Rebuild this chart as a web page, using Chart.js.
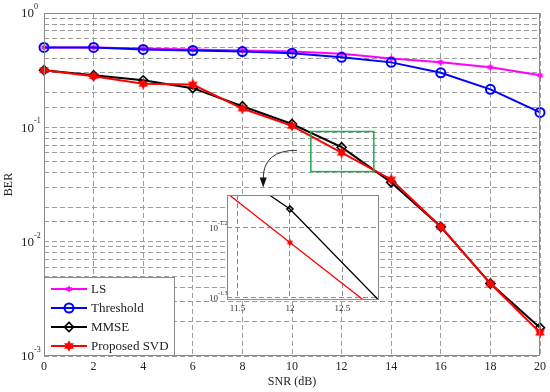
<!DOCTYPE html>
<html>
<head>
<meta charset="utf-8">
<script src="https://cdn.jsdelivr.net/npm/chart.js@4.4.1/dist/chart.umd.min.js"></script>
<style>
  body { margin: 0; background: #fff; }
  #wrap { position: relative; width: 550px; height: 392px; }
  #main { position: absolute; left: 0; top: 0; }
  #inset { position: absolute; left: 195px; top: 188px; }
</style>
</head>
<body>
<div id="wrap">
  <canvas id="main" width="550" height="392"></canvas>
  <canvas id="inset" width="195" height="132"></canvas>
</div>
<script>
// data
const snr = [0, 2, 4, 6, 8, 10, 12, 14, 16, 18, 20];
const berLS        = [0.50, 0.50, 0.49, 0.48, 0.47, 0.46, 0.44, 0.40, 0.37, 0.335, 0.285];
const berThreshold = [0.50, 0.50, 0.48, 0.47, 0.46, 0.445, 0.41, 0.37, 0.30, 0.215, 0.135];
const berMMSE      = [0.316, 0.285, 0.258, 0.22, 0.153, 0.107, 0.067, 0.033, 0.0135, 0.0043, 0.00177];
const berSVD       = [0.316, 0.28, 0.24, 0.237, 0.146, 0.103, 0.060, 0.035, 0.0135, 0.0043, 0.0016];
const yExponents   = [0, -1, -2, -3];
const insetXTicks  = [11.5, 12, 12.5];
const insetYExp    = [-1.2, -1.3];

// zoomed region and arrow (data coordinates)
const zoomBox   = { x0: 10.76, x1: 13.3, y0: 0.041, y1: 0.092 };
const arrowFrom = { x: 10.2, y: 0.063 };
const arrowTo   = { x: 8.84, y: 0.0298 };

const FONT = "'Liberation Serif', 'DejaVu Serif', serif";
const GRID = "#9c9c9c";

// filled six-pointed star marker
function hexagram(size, color) {
  const c = document.createElement("canvas");
  c.width = size; c.height = size;
  const g = c.getContext("2d");
  const r = size / 2 - 0.3, ri = r * 0.55, m = size / 2;
  g.beginPath();
  for (let i = 0; i < 12; i++) {
    const a = -Math.PI / 2 + i * Math.PI / 6;
    const rr = i % 2 ? ri : r;
    g.lineTo(m + rr * Math.cos(a), m + rr * Math.sin(a));
  }
  g.closePath();
  g.fillStyle = color;
  g.fill();
  return c;
}

const starRed    = hexagram(12, "#ff0000");
const starRedSm  = hexagram(8, "#ff0000");
const starPink   = hexagram(8, "#ff00ff");

function seriesLS() {
  return { label: "LS", data: berLS, borderColor: "#ff00ff", backgroundColor: "#ff00ff",
    borderWidth: 2, pointStyle: starPink, pointRadius: 4, pointBorderWidth: 1,
    pointBackgroundColor: "#ff00ff", order: 4 };
}
function seriesThr() {
  return { label: "Threshold", data: berThreshold, borderColor: "#0000ff", backgroundColor: "#0000ff",
    borderWidth: 2, pointStyle: "circle", pointRadius: 4.5, pointBorderWidth: 2,
    pointBackgroundColor: "rgba(0,0,0,0)", order: 3 };
}
function seriesMMSE(r, w) {
  return { label: "MMSE", data: berMMSE, borderColor: "#000000", backgroundColor: "#000000",
    borderWidth: w, pointStyle: "rectRot", pointRadius: r, pointBorderWidth: 1.6,
    pointBackgroundColor: "rgba(0,0,0,0)", order: 2 };
}
function seriesSVD(img, w) {
  return { label: "Proposed SVD", data: berSVD, borderColor: "#ff0000", backgroundColor: "#ff0000",
    borderWidth: w, pointStyle: img, pointRadius: 5, pointBorderWidth: 1,
    pointBackgroundColor: "#ff0000", order: 1 };
}

// box, zoom rectangle, arrow, legend and 10^n labels
const mainDecor = {
  id: "mainDecor",
  afterDraw(chart) {
    const ctx = chart.ctx, a = chart.chartArea;
    const xs = chart.scales.x, ys = chart.scales.y;
    ctx.save();
    ctx.strokeStyle = "#8a8a8a";
    ctx.lineWidth = 1;
    ctx.strokeRect(a.left + 0.5, a.top + 0.5, a.right - a.left - 1, a.bottom - a.top - 1);

    // green zoom box
    ctx.strokeStyle = "#1fae4a";
    ctx.lineWidth = 1.5;
    const gx0 = xs.getPixelForValue(zoomBox.x0), gx1 = xs.getPixelForValue(zoomBox.x1);
    const gy0 = ys.getPixelForValue(zoomBox.y1), gy1 = ys.getPixelForValue(zoomBox.y0);
    ctx.strokeRect(gx0, gy0, gx1 - gx0, gy1 - gy0);

    // curved arrow
    const sx = xs.getPixelForValue(arrowFrom.x), sy = ys.getPixelForValue(arrowFrom.y);
    const tx = xs.getPixelForValue(arrowTo.x), ty = ys.getPixelForValue(arrowTo.y);
    ctx.strokeStyle = "#333";
    ctx.fillStyle = "#111";
    ctx.lineWidth = 1;
    ctx.beginPath();
    ctx.moveTo(sx, sy);
    ctx.quadraticCurveTo(tx, sy, tx, ty - 9);
    ctx.stroke();
    ctx.beginPath();
    ctx.moveTo(tx - 3.5, ty - 10);
    ctx.lineTo(tx + 3.5, ty - 10);
    ctx.lineTo(tx, ty);
    ctx.closePath();
    ctx.fill();

    // y labels 10^n
    ctx.fillStyle = "#222";
    ctx.textAlign = "right";
    ctx.textBaseline = "middle";
    yExponents.forEach(p => {
      const y = ys.getPixelForValue(Math.pow(10, p));
      ctx.font = "13px " + FONT;
      ctx.fillText("10", a.left - 10, y + 1);
      ctx.textAlign = "left";
      ctx.font = "8px " + FONT;
      ctx.fillText(p === 0 ? "0" : "-" + (-p), a.left - 10, y - 6);
      ctx.textAlign = "right";
    });

    // legend (lower left)
    const lx0 = a.left, ly1 = a.bottom, lx1 = a.left + 131, ly0 = a.bottom - 79;
    ctx.fillStyle = "#fff";
    ctx.fillRect(lx0, ly0, lx1 - lx0, ly1 - ly0);
    ctx.strokeStyle = "#8a8a8a";
    ctx.lineWidth = 1;
    ctx.strokeRect(lx0 + 0.5, ly0 + 0.5, lx1 - lx0 - 1, ly1 - ly0 - 1);
    chart.data.datasets.forEach((ds, i) => {
      const y = ly0 + 12 + i * 19;
      ctx.strokeStyle = ds.borderColor;
      ctx.lineWidth = 2;
      ctx.beginPath();
      ctx.moveTo(lx0 + 7, y);
      ctx.lineTo(lx0 + 43, y);
      ctx.stroke();
      ctx.fillStyle = ds.pointBackgroundColor;
      ctx.lineWidth = ds.pointBorderWidth;
      Chart.helpers.drawPoint(ctx, { pointStyle: ds.pointStyle, radius: ds.pointRadius,
        borderWidth: ds.pointBorderWidth, rotation: 0 }, lx0 + 25, y);
      ctx.fillStyle = "#222";
      ctx.font = "13px " + FONT;
      ctx.textAlign = "left";
      ctx.fillText(ds.label, lx0 + 47, y + 1);
    });
    ctx.restore();
  }
};

new Chart(document.getElementById("main"), {
  type: "line",
  data: {
    labels: snr,
    datasets: [seriesLS(), seriesThr(), seriesMMSE(4.5, 2), seriesSVD(starRed, 2)]
      .map(d => Object.assign(d, { clip: 8, data: d.data.map((v, i) => ({ x: snr[i], y: v })) }))
  },
  options: {
    responsive: false,
    animation: false,
    layout: { padding: { top: 13, right: 6, left: 0, bottom: 0 } },
    plugins: { legend: { display: false }, tooltip: { enabled: false } },
    scales: {
      x: {
        type: "linear", min: 0, max: 20,
        ticks: { stepSize: 2, color: "#222", font: { family: FONT, size: 12 }, padding: 4 },
        grid: { color: GRID, drawTicks: false },
        border: { display: false, dash: [5, 3] },
        title: { display: true, text: "SNR (dB)", color: "#222", font: { family: FONT, size: 12 },
          padding: { top: 0, bottom: 3 } },
        afterFit(s) { s.height = 36; }
      },
      y: {
        type: "logarithmic", min: 0.001, max: 1,
        ticks: { display: false, autoSkip: false },
        grid: { color: GRID, drawTicks: false },
        border: { display: false, dash: [5, 3] },
        title: { display: true, text: "BER", color: "#222", font: { family: FONT, size: 12 },
          padding: { top: 2, bottom: 0 } },
        afterFit(s) { s.width = 44; }
      }
    }
  },
  plugins: [mainDecor]
});

// inset: zoom around SNR = 12 dB
const insetDecor = {
  id: "insetDecor",
  beforeDraw(chart) {
    const ctx = chart.ctx, a = chart.chartArea;
    ctx.save();
    ctx.fillStyle = "#fff";
    ctx.fillRect(a.left, a.top, a.right - a.left, a.bottom - a.top);
    ctx.restore();
  },
  afterDraw(chart) {
    const ctx = chart.ctx, a = chart.chartArea, ys = chart.scales.y;
    ctx.save();
    ctx.strokeStyle = "#8a8a8a";
    ctx.lineWidth = 1;
    ctx.strokeRect(a.left + 0.5, a.top + 0.5, a.right - a.left - 1, a.bottom - a.top - 1);
    ctx.fillStyle = "#333";
    ctx.textBaseline = "middle";
    insetYExp.forEach(p => {
      const y = ys.getPixelForValue(Math.pow(10, p));
      ctx.textAlign = "right";
      ctx.font = "9px " + FONT;
      ctx.fillText("10", a.left - 9, y + 1);
      ctx.textAlign = "left";
      ctx.font = "6px " + FONT;
      ctx.fillText(String(p), a.left - 9, y - 4);
    });
    ctx.restore();
  }
};

new Chart(document.getElementById("inset"), {
  type: "line",
  data: {
    datasets: [seriesMMSE(3, 1.3), seriesSVD(starRedSm, 1.3)]
      .map(d => Object.assign(d, { data: d.data.map((v, i) => ({ x: snr[i], y: v })) }))
  },
  options: {
    responsive: false,
    animation: false,
    layout: { padding: { top: 7, right: 11, left: 0, bottom: 0 } },
    plugins: { legend: { display: false }, tooltip: { enabled: false } },
    scales: {
      x: {
        type: "linear", min: 11.4, max: 12.85, bounds: "data",
        afterBuildTicks(s) { s.ticks = insetXTicks.map(v => ({ value: v })); },
        ticks: { color: "#333", font: { family: FONT, size: 9 }, padding: 3,
          callback: v => String(v) },
        grid: { color: "#8c8c8c", drawTicks: false },
        border: { display: false, dash: [5, 3] },
        afterFit(s) { s.height = 20; }
      },
      y: {
        type: "logarithmic", min: Math.pow(10, -1.304), max: Math.pow(10, -1.154), bounds: "data",
        afterBuildTicks(s) { s.ticks = insetYExp.map(p => ({ value: Math.pow(10, p) })); },
        ticks: { display: false },
        grid: { color: "#8c8c8c", drawTicks: false },
        border: { display: false, dash: [5, 3] },
        afterFit(s) { s.width = 32; }
      }
    }
  },
  plugins: [insetDecor]
});
</script>
</body>
</html>
